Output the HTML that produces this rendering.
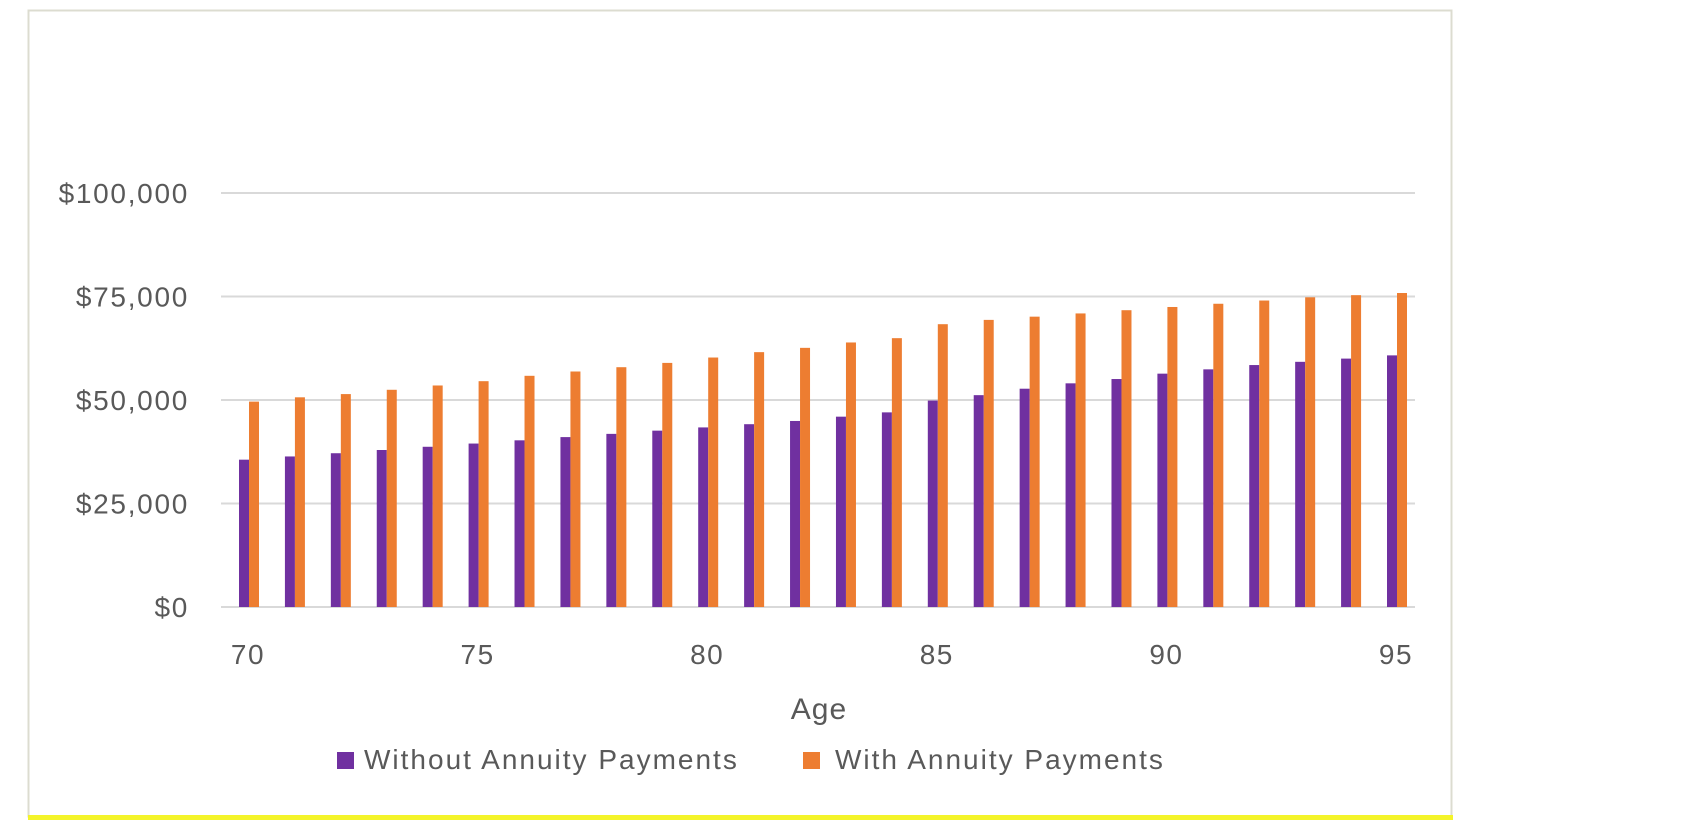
<!DOCTYPE html>
<html><head><style>
body{margin:0;background:#fff;width:1690px;height:831px;overflow:hidden;font-family:"Liberation Sans",sans-serif}
</style></head><body>
<svg width="1690" height="831" xmlns="http://www.w3.org/2000/svg" id="s">
<rect x="0" y="0" width="1690" height="831" fill="#fff"/>
<rect x="28.5" y="10.5" width="1423" height="806" fill="#fff" stroke="#dcdcd0" stroke-width="2"/>
<rect x="28" y="815" width="1425" height="5" fill="#f4f42a"/>
<g id="g" font-family="Liberation Sans, sans-serif" fill="#595959"></g>
</svg>
<script>
var g=document.getElementById('g'),h='';
var y0=607,pk=4.14;
[0,25,50,75,100].forEach(function(v){var y=y0-v*pk;
h+='<line x1="221" x2="1415" y1="'+y+'" y2="'+y+'" stroke="#d9d9d9" stroke-width="2"/>';
h+='<text x="189" y="'+(y+10)+'" font-size="28" letter-spacing="1.7" text-anchor="end">$'+(v==0?'0':v+',000')+'</text>';});
var P=[426,423,420,417,414,411,408,405,402,399,396,393,390,386,382,371,366,360,355,351,346,342,338,335,332,329];
var O=[372,368,365,361,357,353,348,344,340,336,331,326,322,317,313,300,296,293,290,287,284,281,278,275,273,271];
for(var i=0;i<26;i++){var x=239+i*45.92;
var vp=(563-P[i])/3.85,vo=(563-O[i])/3.85;
h+='<rect x="'+x+'" y="'+(y0-vp*pk)+'" width="10" height="'+vp*pk+'" fill="#7030a0"/>';
h+='<rect x="'+(x+10)+'" y="'+(y0-vo*pk)+'" width="10" height="'+vo*pk+'" fill="#ed7d31"/>';
if(i%5==0)h+='<text x="'+(x+9)+'" y="'+664+'" font-size="28" letter-spacing="1.5" text-anchor="middle">'+(70+i)+'</text>';}
h+='<text x="819" y="719" font-size="30" letter-spacing="1" text-anchor="middle">Age</text>';
h+='<rect x="337" y="752" width="17" height="17" fill="#7030a0"/><text x="364" y="769" font-size="28" letter-spacing="2">Without Annuity Payments</text>';
h+='<rect x="803" y="752" width="17" height="17" fill="#ed7d31"/><text x="835" y="769" font-size="28" letter-spacing="2">With Annuity Payments</text>';
g.innerHTML=h;
</script>
</body></html>
